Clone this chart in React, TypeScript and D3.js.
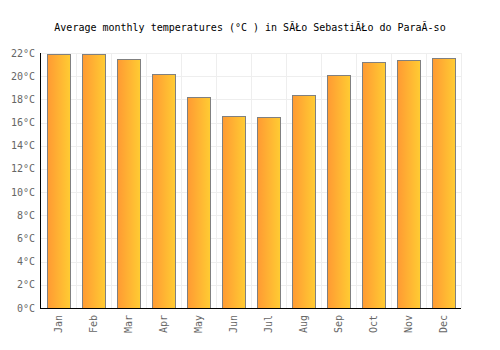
import { useEffect, useRef } from "react";
import * as d3 from "d3";

const months = ["Jan", "Feb", "Mar", "Apr", "May", "Jun", "Jul", "Aug", "Sep", "Oct", "Nov", "Dec"];
const temps = [21.9, 21.9, 21.5, 20.2, 18.2, 16.6, 16.45, 18.4, 20.1, 21.2, 21.4, 21.6];
const yTicks = [0, 2, 4, 6, 8, 10, 12, 14, 16, 18, 20, 22];
const title = "Average monthly temperatures (°C ) in SĂŁo SebastiĂŁo do ParaĂ-so";

export default function App() {
  const svgRef = useRef<SVGSVGElement>(null);

  useEffect(() => {
    const width = 500;
    const height = 350;
    const margin = { top: 53, right: 39, bottom: 42, left: 41 };
    const font = "'DejaVu Sans Mono', monospace";

    const svg = d3.select(svgRef.current);
    svg.selectAll("*").remove();

    const defs = svg.append("defs");
    const grad = defs
      .append("linearGradient")
      .attr("id", "barGrad")
      .attr("x1", "0%")
      .attr("x2", "100%")
      .attr("y1", "0%")
      .attr("y2", "0%");
    grad.append("stop").attr("offset", "0%").attr("stop-color", "#ff9a33");
    grad.append("stop").attr("offset", "100%").attr("stop-color", "#ffcc33");

    const x = d3
      .scaleBand()
      .domain(months)
      .range([margin.left, width - margin.right])
      .paddingInner(0.34)
      .paddingOuter(0.17);

    const y = d3
      .scaleLinear()
      .domain([0, 22])
      .range([height - margin.bottom, margin.top]);

    const step = x.step();
    const bandEdges = months.map((_, i) => margin.left + step * (i + 1));

    // grid
    svg
      .append("g")
      .selectAll("line.h")
      .data(yTicks.filter((t) => t > 0))
      .join("line")
      .attr("x1", margin.left)
      .attr("x2", width - margin.right)
      .attr("y1", (d) => Math.round(y(d)) + 0.5)
      .attr("y2", (d) => Math.round(y(d)) + 0.5)
      .attr("stroke", "#eeeeee");

    svg
      .append("g")
      .selectAll("line.v")
      .data(bandEdges)
      .join("line")
      .attr("x1", (d) => Math.round(d) + 0.5)
      .attr("x2", (d) => Math.round(d) + 0.5)
      .attr("y1", margin.top)
      .attr("y2", height - margin.bottom)
      .attr("stroke", "#eeeeee");

    // bars
    svg
      .append("g")
      .selectAll("rect")
      .data(temps)
      .join("rect")
      .attr("x", (_, i) => Math.round(x(months[i])!) + 0.5)
      .attr("y", (d) => Math.round(y(d)) + 0.5)
      .attr("width", Math.round(x.bandwidth()))
      .attr("height", (d) => Math.round(y(0)) - Math.round(y(d)))
      .attr("fill", "url(#barGrad)")
      .attr("stroke", "#808080")
      .attr("stroke-width", 1);

    // axes lines
    svg
      .append("line")
      .attr("x1", margin.left - 0.5)
      .attr("x2", margin.left - 0.5)
      .attr("y1", margin.top)
      .attr("y2", height - margin.bottom)
      .attr("stroke", "#000");
    svg
      .append("line")
      .attr("x1", margin.left - 1)
      .attr("x2", width - margin.right)
      .attr("y1", height - margin.bottom + 0.5)
      .attr("y2", height - margin.bottom + 0.5)
      .attr("stroke", "#000");

    // y tick labels
    svg
      .append("g")
      .selectAll("text")
      .data(yTicks)
      .join("text")
      .attr("x", margin.left - 6)
      .attr("y", (d) => y(d))
      .attr("dy", "0.35em")
      .attr("text-anchor", "end")
      .attr("fill", "#666")
      .style("font-family", font)
      .style("font-size", "10px")
      .text((d) => `${d}°C`);

    // x labels
    svg
      .append("g")
      .selectAll("text")
      .data(months)
      .join("text")
      .attr("transform", (d) => `translate(${x(d)! + x.bandwidth() / 2},${height - margin.bottom + 7}) rotate(-90)`)
      .attr("dy", "0.35em")
      .attr("text-anchor", "end")
      .attr("fill", "#666")
      .style("font-family", font)
      .style("font-size", "10px")
      .text((d) => d);

    svg
      .append("text")
      .attr("x", width / 2)
      .attr("y", 31)
      .attr("text-anchor", "middle")
      .attr("fill", "#000")
      .style("font-family", font)
      .style("font-size", "10px")
      .text(title);
  }, []);

  return (
    <div style={{ position: "absolute", left: 0, top: 0 }}>
      <svg ref={svgRef} width={500} height={350} style={{ display: "block", background: "#fff" }} />
    </div>
  );
}
